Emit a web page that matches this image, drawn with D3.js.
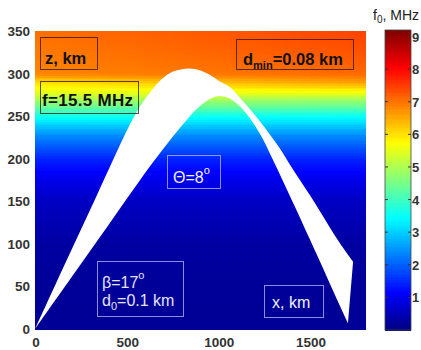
<!DOCTYPE html>
<html><head><meta charset="utf-8">
<script src="https://cdn.jsdelivr.net/npm/d3@7"></script>
<style>body{margin:0;background:#fff}svg{display:block}text{font-family:"Liberation Sans",Arial,sans-serif}</style>
</head><body><svg id="c" width="421" height="350"></svg>
<script>
// ---- data ----
const profileZ = [0,50,100,150,175,200,225,240,250,260,270,280,290,300,325,350];
const f0Left   = [0.2,0.22,0.3,0.6,0.95,1.45,2.3,3.0,3.6,4.3,5.0,5.6,6.0,6.85,6.95,7.05];
const f0Right  = [0.2,0.22,0.3,0.6,0.95,1.45,2.3,3.0,3.5,4.2,4.9,5.8,6.6,7.1,7.3,7.45];
const outerX = [0,160,320,483,550,600,650,700,750,800,835,880,940,1000,1064,1120,1173,1230,1282,1336,1391,1445,1500,1555,1609,1665,1735];
const outerZ = [0,75,149,225,253,270,284,295,302,305,306,305,300,292,284,271,258,243,228,212,193,175,157,138,119,100,79];
const innerX = [0,200,400,560,680,760,830,880,930,990,1050,1110,1170,1230,1295,1365,1430,1487,1555,1630,1707];
const innerZ = [0,61,122,171,206,228,246,258,267,273,272,263,248,228,200,168,138,111,79,43,7];
const xTicks = [0,500,1000,1500];
const yTicks = [0,50,100,150,200,250,300,350];
const cbTicks = [1,2,3,4,5,6,7,8,9];
const xDomain = [0,1800], yDomain = [0,350], cDomain = [0,9.2];
const jetStops = [0,0.125,0.375,0.625,0.875,1];
const jetColors = ["#000080","#0000ff","#00ffff","#ffff00","#ff0000","#800000"];

// ---- scales ----
const svg = d3.select("#c");
const x = d3.scaleLinear().domain(xDomain).range([35,365]);
const y = d3.scaleLinear().domain(yDomain).range([329,31]);
const color = d3.scaleLinear().domain(jetStops.map(s=>s*cDomain[1])).range(jetColors).clamp(true);
const pL = d3.scaleLinear().domain(profileZ).range(f0Left);
const pR = d3.scaleLinear().domain(profileZ).range(f0Right);
const f0 = (xv,zv)=>{const t=xv/xDomain[1];return pL(zv)*(1-t)+pR(zv)*t;};

// ---- background field ----
const colStep=50, rowStep=2;
const cells = d3.cross(d3.range(0,xDomain[1],colStep), d3.range(0,yDomain[1],rowStep));
svg.append("g").attr("shape-rendering","crispEdges").selectAll("rect").data(cells).join("rect")
  .attr("x",d=>x(d[0])).attr("y",d=>y(d[1]+rowStep))
  .attr("width",d=>x(d[0]+colStep)-x(d[0])+0.6)
  .attr("height",d=>y(d[1])-y(d[1]+rowStep)+0.6)
  .attr("fill",d=>color(f0(d[0]+colStep/2,d[1]+rowStep/2)));

// ---- ray region ----
const line = d3.line().x(d=>x(d[0])).y(d=>y(d[1])).curve(d3.curveCatmullRom);
const outerPts = outerX.map((v,i)=>[v,outerZ[i]]);
const innerPts = innerX.map((v,i)=>[v,innerZ[i]]).reverse();
const pOuter = line(outerPts), pInner = line(innerPts);
svg.append("path").attr("d", pOuter + "L" + pInner.substring(1) + "Z").attr("fill","#fff");

// ---- axes labels ----
svg.append("g").selectAll("text").data(yTicks).join("text")
  .attr("x",30).attr("y",d=>y(d)+5).attr("text-anchor","end")
  .attr("font-size",13.5).attr("font-weight","bold").attr("fill","#333").text(d=>d);
svg.append("g").selectAll("text").data(xTicks).join("text")
  .attr("x",d=>x(d)+1).attr("y",347).attr("text-anchor","middle")
  .attr("font-size",13.5).attr("font-weight","bold").attr("fill","#333").text(d=>d);

// ---- colorbar ----
const cb = d3.scaleLinear().domain(cDomain).range([330,30]);
const cbVals = d3.range(0,cDomain[1],0.05);
svg.append("g").attr("shape-rendering","crispEdges").selectAll("rect").data(cbVals).join("rect")
  .attr("x",385).attr("width",26).attr("y",d=>cb(d+0.05)).attr("height",d=>cb(d)-cb(d+0.05)+0.6)
  .attr("fill",d=>color(d+0.025));
svg.append("rect").attr("x",385).attr("y",30).attr("width",26).attr("height",300)
  .attr("fill","none").attr("stroke","#444").attr("stroke-width",0.8);
const cbt = svg.append("g");
cbt.selectAll("line.l").data(cbTicks).join("line").attr("class","l")
  .attr("x1",385).attr("x2",388).attr("y1",d=>cb(d)).attr("y2",d=>cb(d)).attr("stroke","#333");
cbt.selectAll("line.r").data(cbTicks).join("line").attr("class","r")
  .attr("x1",408).attr("x2",411).attr("y1",d=>cb(d)).attr("y2",d=>cb(d)).attr("stroke","#333");
cbt.selectAll("text").data(cbTicks).join("text")
  .attr("x",412).attr("y",d=>cb(d)+5).attr("font-size",13).attr("font-weight","bold").attr("fill","#333").text(d=>d);
const cbTitle = svg.append("text").attr("x",373).attr("y",20).attr("font-size",14).attr("fill","#222");
cbTitle.append("tspan").text("f");
cbTitle.append("tspan").attr("font-size",10).attr("dy",3).text("0");
cbTitle.append("tspan").attr("dy",-3).text(", MHz");

// ---- annotation boxes ----
function box(x0,y0,w,h,stroke){svg.append("rect").attr("x",x0+0.5).attr("y",y0+0.5).attr("width",w).attr("height",h)
  .attr("fill","none").attr("stroke",stroke).attr("stroke-width",1);}
const dark="rgba(40,20,0,0.75)", light="rgba(200,200,255,0.7)";
box(40,37,57,32,dark);
svg.append("text").attr("x",45).attr("y",64).attr("font-size",16.5).attr("font-weight","bold").attr("fill","#111").text("z, km");
box(40,81,98,32,dark);
svg.append("text").attr("x",42).attr("y",106).attr("font-size",17).attr("letter-spacing",0.3).attr("font-weight","bold").attr("fill","#111").text("f=15.5 MHz");
box(236,39,117,30,dark);
const dm = svg.append("text").attr("x",243).attr("y",65).attr("font-size",16.5).attr("font-weight","bold").attr("fill","#111");
dm.append("tspan").text("d");
dm.append("tspan").attr("font-size",11).attr("dy",4).text("min");
dm.append("tspan").attr("dy",-4).text("=0.08 km");
box(167,155,53,33,light);
const th = svg.append("text").attr("x",173).attr("y",183).attr("font-size",16).attr("fill","#f4f4ff");
th.append("tspan").text("Θ=8");
th.append("tspan").attr("font-size",11).attr("dy",-9).text("o");
box(97,261,86,55,light);
const b1 = svg.append("text").attr("x",102).attr("y",288).attr("font-size",16).attr("fill","#e4e4ff");
b1.append("tspan").text("β=17");
b1.append("tspan").attr("font-size",11).attr("dy",-9).text("o");
const b2 = svg.append("text").attr("x",102).attr("y",306).attr("font-size",16).attr("fill","#e4e4ff");
b2.append("tspan").text("d");
b2.append("tspan").attr("font-size",11).attr("dy",4).text("0");
b2.append("tspan").attr("dy",-4).text("=0.1 km");
box(264,285,59,32,light);
svg.append("text").attr("x",272).attr("y",308).attr("font-size",16).attr("fill","#f0f0ff").text("x, km");
</script></body></html>
